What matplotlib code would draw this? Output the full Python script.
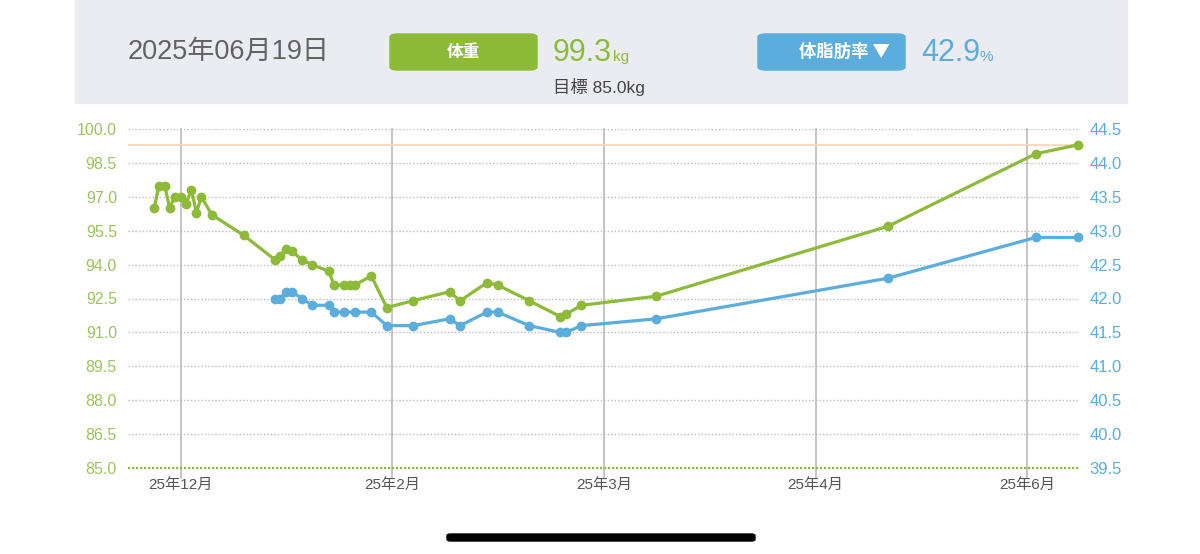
import matplotlib
matplotlib.use("Agg")
import matplotlib.pyplot as plt
from matplotlib.patches import Rectangle, FancyBboxPatch

plt.rcParams['font.family'] = ['Liberation Sans', 'Noto Sans CJK JP', 'DejaVu Sans']

# x in days-ish units, 30 units between month gridlines
weight_x = [-3.8, -3.1, -2.3, -1.6, -0.9, 0.0, 0.7, 1.5, 2.2, 2.9, 4.4, 8.9,
            13.4, 14.1, 14.9, 15.7, 17.2, 18.6, 21.0, 21.7, 23.2, 24.0, 24.7, 27.0,
            29.2, 32.9, 38.1, 39.6, 43.4, 44.9, 49.4, 53.8, 54.6, 56.8,
            67.4, 100.3, 121.2, 127.2]
weight = [96.5, 97.5, 97.5, 96.5, 97.0, 97.0, 96.7, 97.3, 96.3, 97.0, 96.2, 95.3,
          94.2, 94.4, 94.7, 94.6, 94.2, 94.0, 93.7, 93.1, 93.1, 93.1, 93.1, 93.5,
          92.1, 92.4, 92.8, 92.4, 93.2, 93.1, 92.4, 91.7, 91.8, 92.2,
          92.6, 95.7, 98.9, 99.3]

fat_x = [13.4, 14.1, 14.9, 15.7, 17.2, 18.6, 21.0, 21.7, 23.2, 24.7, 27.0,
         29.2, 32.9, 38.1, 39.6, 43.4, 44.9, 49.4, 53.8, 54.6, 56.8,
         67.4, 100.3, 121.2, 127.2]
fat = [42.0, 42.0, 42.1, 42.1, 42.0, 41.9, 41.9, 41.8, 41.8, 41.8, 41.8,
       41.6, 41.6, 41.7, 41.6, 41.8, 41.8, 41.6, 41.5, 41.5, 41.6,
       41.7, 42.3, 42.9, 42.9]

month_ticks = [0, 30, 60, 90, 120]
month_labels = ['25年12月', '25年2月', '25年3月', '25年4月', '25年6月']
weight_ticks = [85.0, 86.5, 88.0, 89.5, 91.0, 92.5, 94.0, 95.5, 97.0, 98.5, 100.0]
fat_ticks = [39.5, 40.0, 40.5, 41.0, 41.5, 42.0, 42.5, 43.0, 43.5, 44.0, 44.5]
current_weight = 99.3
current_fat = 42.9
goal_weight = 85.0
date_str = '2025年06月19日'

green = '#8DBA38'
green_lbl = '#9CC45A'
blue = '#5AADDD'
gray_txt = '#626262'

W, H = 1200, 554
fig = plt.figure(figsize=(W / 100, H / 100), dpi=100)
fig.patch.set_facecolor('white')

def fx(px):
    return px / W

def fy(py):
    return 1 - py / H

# header band
fig.patches.append(Rectangle((fx(75), fy(103)), fx(1127) - fx(75), 103 / H,
                             transform=fig.transFigure, color='#EBEBF2', zorder=0))
fig.text(fx(128), fy(52), date_str, fontsize=19.5, color=gray_txt, ha='left', va='center')

fig.patches.append(FancyBboxPatch((fx(390), fy(70)), fx(537) - fx(390), 36 / H,
                                  boxstyle='round,pad=0,rounding_size=0.006',
                                  transform=fig.transFigure, color=green, zorder=1))
fig.text(fx(463), fy(52), '体重', fontsize=12, color='white', weight='bold',
         ha='center', va='center', zorder=2)
fig.text(fx(553), fy(61), f'{current_weight:.1f}', fontsize=22, color=green, ha='left', va='baseline')
fig.text(fx(613), fy(61), 'kg', fontsize=11, color=green, ha='left', va='baseline')
fig.text(fx(553), fy(87), f'目標 {goal_weight:.1f}kg', fontsize=12.5, color='#444444',
         ha='left', va='center')

fig.patches.append(FancyBboxPatch((fx(758), fy(70)), fx(905) - fx(758), 36 / H,
                                  boxstyle='round,pad=0,rounding_size=0.006',
                                  transform=fig.transFigure, color=blue, zorder=1))
fig.text(fx(844), fy(52), '体脂肪率 ▼', fontsize=12.5, color='white', weight='bold',
         ha='center', va='center', zorder=2,
         family=['Noto Sans CJK JP', 'DejaVu Sans'])
fig.text(fx(921), fy(61), f'{current_fat:.1f}', fontsize=22, color=blue, ha='left', va='baseline')
fig.text(fx(980), fy(61), '%', fontsize=11, color=blue, ha='left', va='baseline')

# home indicator
fig.patches.append(FancyBboxPatch((fx(447), fy(541)), fx(755) - fx(447), 7 / H,
                                  boxstyle='round,pad=0,rounding_size=0.003',
                                  transform=fig.transFigure, color='black', zorder=1))

# chart
ax = fig.add_axes([fx(128), fy(468), fx(1080) - fx(128), (468 - 129) / H])
ax.set_facecolor('none')
ax.set_xlim(-7.5, 127.5)
ax.set_ylim(85, 100)
for s in ax.spines.values():
    s.set_visible(False)

ax.set_yticks(weight_ticks)
ax.set_yticklabels([f'{t:.1f}' for t in weight_ticks])
ax.set_xticks(month_ticks)
ax.set_xticklabels(month_labels)
ax.tick_params(axis='y', length=0, labelsize=11.5, labelcolor=green_lbl, pad=8)
ax.tick_params(axis='x', length=0, labelsize=11, labelcolor='#555555', pad=7)

for t in weight_ticks[1:]:
    ax.axhline(t, color='#BBBBBB', lw=1, ls=(0, (1, 1.5)), zorder=1)
ax.axhline(goal_weight, color=green, lw=1.6, ls=(0, (1, 0.8)), zorder=2, clip_on=False)
for t in month_ticks:
    ax.axvline(t, ymin=-0.03, ymax=1, color='#BBBBBB', lw=1.2, zorder=1, clip_on=False)
ax.axhline(current_weight, color='#F8D6B4', lw=1.2, zorder=1)

ax.plot(weight_x, weight, color=green, lw=2.3, marker='o', ms=6, zorder=4, clip_on=False)

ax2 = ax.twinx()
ax2.set_ylim(39.5, 44.5)
for s in ax2.spines.values():
    s.set_visible(False)
ax2.set_yticks(fat_ticks)
ax2.set_yticklabels([f'{t:.1f}' for t in fat_ticks])
ax2.tick_params(axis='y', length=0, labelsize=12, labelcolor=blue, pad=7)
ax2.plot(fat_x, fat, color=blue, lw=2.3, marker='o', ms=6, zorder=3, clip_on=False)

fig.savefig('out.png', dpi=100, facecolor='white')
